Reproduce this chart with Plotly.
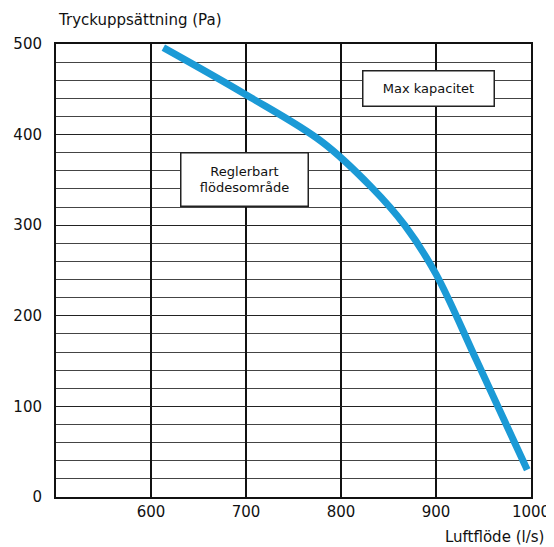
import plotly.graph_objects as go

# fläktkurva, läst från bilden
flow = [613, 700, 780, 832, 867, 900, 943, 996]
pressure = [496, 444, 392, 342, 300, 246, 150, 30]

x_ticks = [600, 700, 800, 900, 1000]
y_ticks = [0, 100, 200, 300, 400, 500]

FONT = "DejaVu Sans"
INK = "#111"

fig = go.Figure()
fig.add_trace(go.Scatter(x=flow, y=pressure, mode="lines",
                         line=dict(color="#1b9ad6", width=7, shape="spline",
                                   smoothing=1.0),
                         hoverinfo="skip", showlegend=False))

fig.add_annotation(x=892, y=451, text="Max kapacitet", showarrow=False,
                   font=dict(family=FONT, size=13, color=INK),
                   bgcolor="white", bordercolor="#222", borderwidth=1.5,
                   width=128, height=32)
fig.add_annotation(x=698.5, y=350, text="Reglerbart<br>flödesområde",
                   showarrow=False,
                   font=dict(family=FONT, size=13, color=INK),
                   bgcolor="white", bordercolor="#222", borderwidth=1.5,
                   width=124, height=50)

# sidan har 8 px marginal i body, därför förskjutna marginaler
fig.update_layout(
    width=554, height=547,
    margin=dict(l=48, r=31, t=36, b=58),
    paper_bgcolor="white", plot_bgcolor="white",
    font=dict(family=FONT, size=15, color=INK),
    xaxis=dict(range=[500, 1000], tickvals=x_ticks, showgrid=True,
               gridcolor=INK, gridwidth=1.5, showline=True,
               linecolor=INK, linewidth=2, mirror=True, ticks="",
               zeroline=False, automargin=False, ticklabelstandoff=0,
               tickfont=dict(size=15, color=INK)),
    yaxis=dict(range=[0, 500], tickvals=y_ticks, showgrid=True,
               gridcolor="#222", gridwidth=1.2, showline=True,
               linecolor=INK, linewidth=2, mirror=True, ticks="",
               zeroline=False, automargin=False, ticklabelstandoff=9,
               tickfont=dict(size=15, color=INK)),
)
fig.update_yaxes(minor=dict(dtick=20, showgrid=True, gridcolor="#444",
                            gridwidth=1))

fig.add_annotation(xref="paper", yref="paper", x=0.0, y=1.0, yshift=24,
                   xanchor="left", yanchor="middle",
                   text="Tryckuppsättning (Pa)", showarrow=False,
                   font=dict(family=FONT, size=15, color=INK))
fig.add_annotation(xref="paper", yref="paper", x=1.0, y=0, yshift=-40,
                   xanchor="right", yanchor="middle", xshift=15,
                   text="Luftflöde (l/s)", showarrow=False,
                   font=dict(family=FONT, size=15, color=INK))

fig.write_html("out.html")
